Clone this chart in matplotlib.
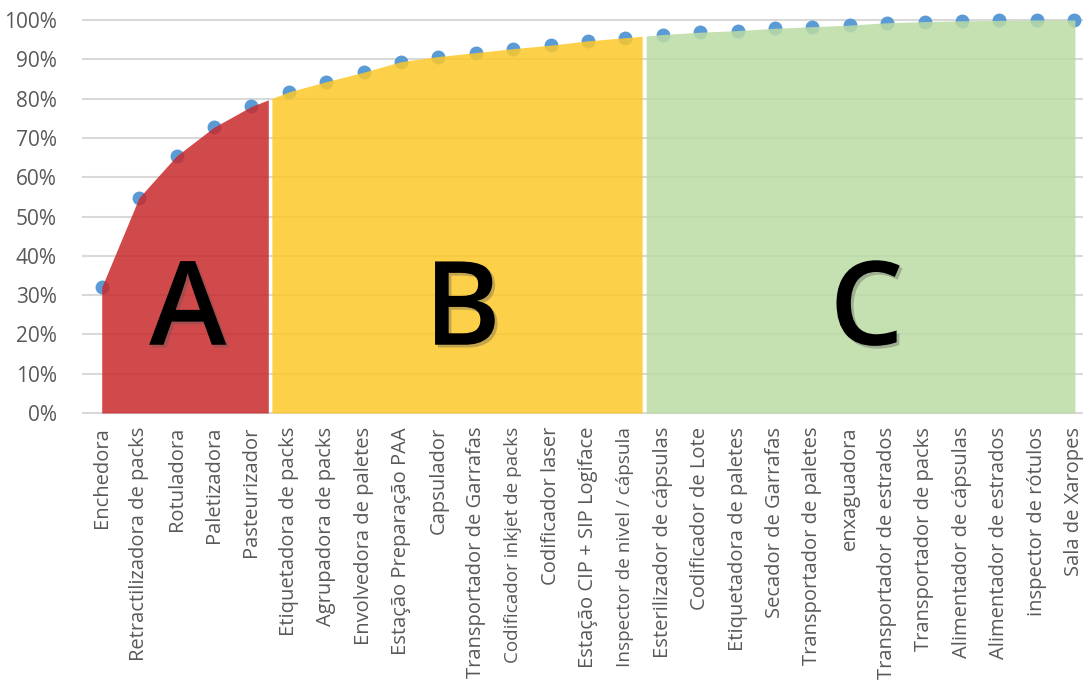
import matplotlib
matplotlib.use("Agg")
import matplotlib.pyplot as plt
import matplotlib.patheffects as pe
import numpy as np

categories = ["Enchedora", "Retractilizadora de packs", "Rotuladora", "Paletizadora",
              "Pasteurizador", "Etiquetadora de packs", "Agrupadora de packs",
              "Envolvedora de paletes", "Estação Preparação PAA", "Capsulador",
              "Transportador de Garrafas", "Codificador inkjet de packs", "Codificador laser",
              "Estação CIP + SIP Logiface", "Inspector de nivel / cápsula",
              "Esterilizador de cápsulas", "Codificador de Lote", "Etiquetadora de paletes",
              "Secador de Garrafas", "Transportador de paletes", "enxaguadora",
              "Transportador de estrados", "Transportador de packs", "Alimentador de cápsulas",
              "Alimentador de estrados", "inspector de rótulos", "Sala de Xaropes"]
cumulative = [32.0, 54.8, 65.4, 72.7, 78.0, 81.7, 84.3, 86.7, 89.4, 90.7,
              91.7, 92.7, 93.6, 94.7, 95.5, 96.3, 96.9, 97.3, 97.9, 98.3,
              98.7, 99.3, 99.6, 99.8, 99.9, 100.0, 100.0]
class_labels = ["A", "B", "C"]
class_ends = [4, 14, 26]  # last category index of each class
class_colors = ["#C82A2C", "#FDC82A", "#BBDBA4"]
yticks = [0, 10, 20, 30, 40, 50, 60, 70, 80, 90, 100]

plt.rcParams['font.family'] = ['Open Sans', 'DejaVu Sans']

W, H = 1083, 680
fig = plt.figure(figsize=(W / 100, H / 100), dpi=100)
x0, y0 = 83, 413
step = 37.4
ax = fig.add_axes([x0 / W, (H - y0) / H, step * 27 / W, 393 / H])

x = np.arange(len(categories))
y = np.array(cumulative) / 100.0

ax.set_xlim(-0.5, len(categories) - 0.5)
ax.set_ylim(0, 1)

for v in yticks:
    ax.axhline(v / 100, color="#D9D9D9", lw=1.5, zorder=1, clip_on=False)

ax.plot(x, y, linestyle="none", marker="o", ms=9, color="#5B9BD5", zorder=2, clip_on=False)

start = 0.0
for i, (lab, end, col) in enumerate(zip(class_labels, class_ends, class_colors)):
    stop = end + 0.5 if i < len(class_ends) - 1 else float(end) + 0.08
    xs = np.linspace(start, stop, 200)
    ys = np.interp(xs, x, y)
    l = start + 0.03 if i > 0 else start
    r = stop - 0.03
    m = (xs >= l) & (xs <= r)
    ax.fill_between(xs[m], 0, ys[m], color=col, alpha=0.85, lw=0, zorder=3)
    start = stop

label_pos = [2.3, 9.65, 20.45]
for lab, px in zip(class_labels, label_pos):
    ax.text(px, 0.25, lab, fontsize=84, fontweight=600, ha="center", va="center",
            color="black", zorder=5,
            path_effects=[pe.withSimplePatchShadow(offset=(2, -2), shadow_rgbFace="#555555", alpha=0.35)])

ax.set_yticks([v / 100 for v in yticks])
ax.set_yticklabels([f"{v}%" for v in yticks], fontsize=15, color="#595959")
ax.set_xticks(x)
ax.set_xticklabels(categories, rotation=90, fontsize=14.5, color="#595959")
for t in ax.get_xticklabels():
    bb_needed = len(t.get_text())
    if bb_needed >= 27:
        t.set_fontsize(13.6)
ax.tick_params(axis="y", length=0, pad=19)
ax.tick_params(axis="x", length=0, pad=10)
for s in ax.spines.values():
    s.set_visible(False)

fig.savefig("out.png", dpi=100)
